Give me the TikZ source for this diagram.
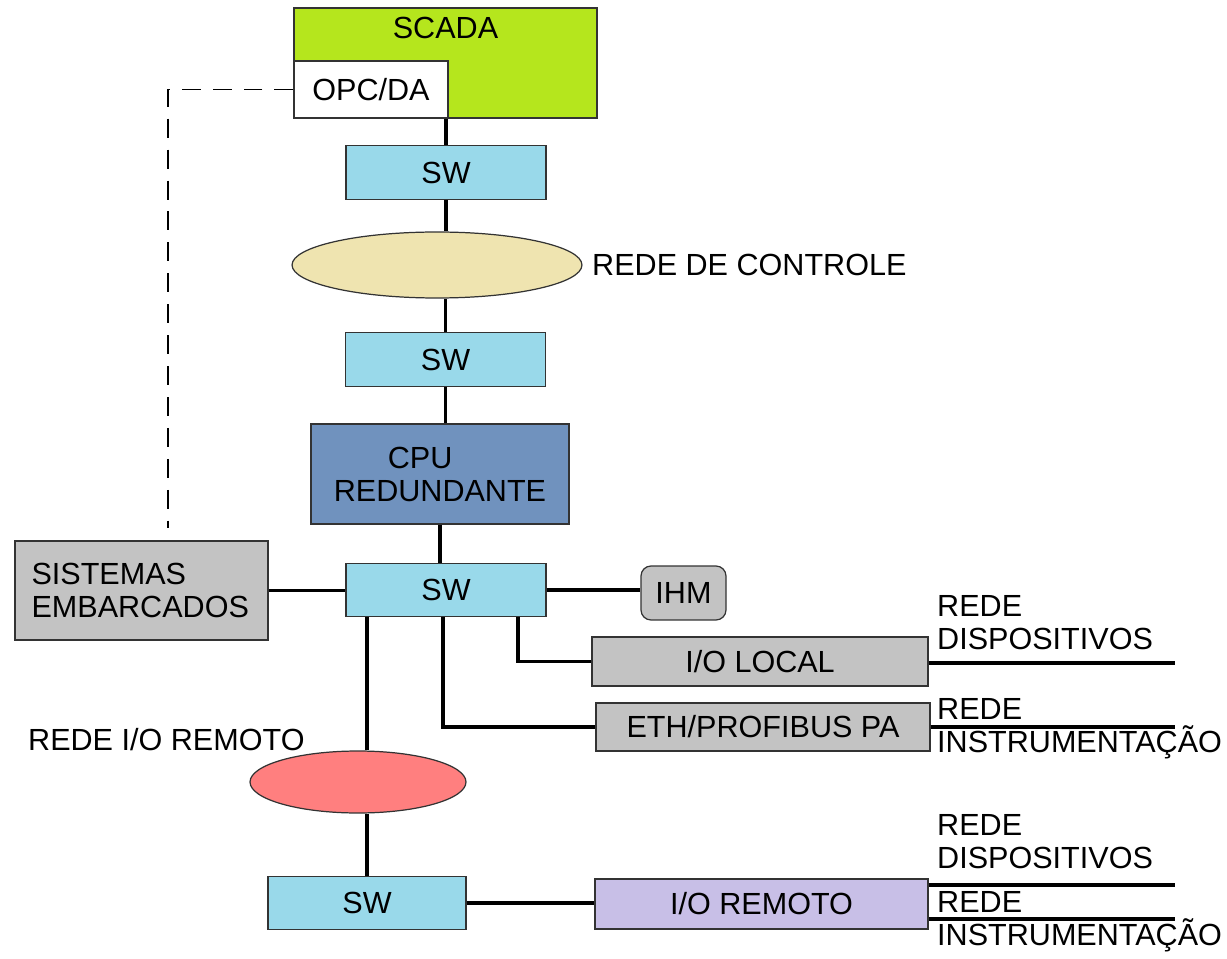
\documentclass[tikz,border=0pt]{standalone}
\usepackage{fontspec}
\setmainfont{Liberation Sans}
\usepackage{tikz}
\usetikzlibrary{shapes.geometric}
\definecolor{scadagreen}{RGB}{181,230,29}
\definecolor{swblue}{RGB}{153,217,234}
\definecolor{ctrlbeige}{RGB}{239,228,176}
\definecolor{cpublue}{RGB}{112,146,190}
\definecolor{boxgray}{RGB}{195,195,195}
\definecolor{remred}{RGB}{255,127,127}
\definecolor{remlilac}{RGB}{200,191,231}

\begin{document}
\begin{tikzpicture}[x=0.02cm, y=-0.02cm,
    every node/.style={font=\fontsize{17.4}{18.8}\selectfont},
    box/.style={draw=black!80, line width=0.7pt, inner sep=0pt},
    swbox/.style={box, fill=swblue, minimum width=4cm, minimum height=1.07cm},
    rede/.style={ellipse, draw=black!80, line width=0.7pt, inner sep=0pt},
    link/.style={line width=2.2pt}]
  \useasboundingbox (0,0) rectangle (1227,959);

  % top: scada and control network
  \node[box, fill=scadagreen, minimum width=6.06cm, minimum height=2.2cm,
        label={[anchor=north, yshift=-0.08cm]north:SCADA}] (scada) at (445.5,63) {};
  \node[box, fill=white, minimum width=3.08cm, minimum height=1.14cm] (opc) at (371,89.5) {OPC/DA};
  \node[swbox] (sw1) at (446,172.5) {SW};
  \node[rede, fill=ctrlbeige, minimum width=5.8cm, minimum height=1.32cm] (ctrl) at (437,265) {};
  \node[anchor=west] (ctrltxt) at (586,265) {REDE DE CONTROLE};
  \node[swbox] (sw2) at (445.5,359.5) {SW};
  \node[box, fill=cpublue, minimum width=5.16cm, minimum height=2cm, align=center] (cpu) at (440,474) {CPU\hspace*{1.3em}\\REDUNDANTE};

  % middle: switch and its devices
  \node[box, fill=boxgray, minimum width=5.06cm, minimum height=1.98cm, text width=4.4cm, align=left] (sist) at (141.5,590.5) {SISTEMAS\\EMBARCADOS};
  \node[swbox] (sw3) at (446,590) {SW};
  \node[box, fill=boxgray, rounded corners=0.2cm, minimum width=1.7cm, minimum height=1.08cm] (ihm) at (683.5,593) {IHM};
  \node[box, fill=boxgray, minimum width=6.72cm, minimum height=0.98cm] (iolocal) at (760,661.5) {I/O LOCAL};
  \node[box, fill=boxgray, minimum width=6.68cm, minimum height=0.96cm] (eth) at (763,727) {ETH/PROFIBUS PA};

  % bottom: remote i/o
  \node[anchor=west] (remtxt) at (22,740) {REDE I/O REMOTO};
  \node[rede, fill=remred, minimum width=4.32cm, minimum height=1.24cm] (rem) at (358,782) {};
  \node[swbox, minimum width=3.96cm] (sw4) at (367,903) {SW};
  \node[box, fill=remlilac, minimum width=6.66cm, minimum height=1cm] (ioremoto) at (761.5,904) {I/O REMOTO};

  % field network labels
  \node[anchor=west, align=left] (disp1) at (931,623) {REDE\\DISPOSITIVOS};
  \node[anchor=west, align=left] (inst1) at (931,729) {REDE\\INSTRUMENTAÇÃO};
  \node[anchor=west, align=left] (disp2) at (931,842) {REDE\\DISPOSITIVOS};
  \node[anchor=west, align=left] (inst2) at (931,922) {REDE\\INSTRUMENTAÇÃO};

  % free ends of the field networks
  \foreach \n/\y in {a/663, b/727, c/885, d/919}{
    \coordinate (end\n) at (1175,\y);
  }
  \coordinate (dash1) at (168,89.5);
  \coordinate (dash2) at (168,528);

  % connectors
  \draw[line width=0.7pt, dash pattern=on 10.8pt off 6.8pt] (opc.west) -- (dash1) -- (dash2);
  \draw[link] (sw1.north) -- (sw1.north |- scada.south);
  \draw[link] (sw1.south) -- (sw1.south |- ctrl.north);
  \draw[link] (sw2.north) -- (sw2.north |- ctrl.south);
  \draw[link] (sw2.south) -- (sw2.south |- cpu.north);
  \draw[link] (cpu.south) -- (cpu.south |- sw3.north);
  \draw[link] (sist.east) -- (sist.east -| sw3.west);
  \draw[link] (sw3.east) -- (sw3.east -| ihm.west);
  \draw[link] ([xshift=1.44cm]sw3.south) |- (iolocal.west);
  \draw[link] ([xshift=-0.06cm]sw3.south) |- (eth.west);
  \draw[link] (sw3.south -| sw4.north) -- (rem.north -| sw4.north);
  \draw[link] (rem.south -| sw4.north) -- (sw4.north);
  \draw[link] (sw4.east) -- (sw4.east -| ioremoto.west);
  \draw[link] (iolocal.east |- enda) -- (enda);
  \draw[link] (eth.east) -- (endb);
  \draw[link] (ioremoto.east |- endc) -- (endc);
  \draw[link] (ioremoto.east |- endd) -- (endd);
\end{tikzpicture}
\end{document}
